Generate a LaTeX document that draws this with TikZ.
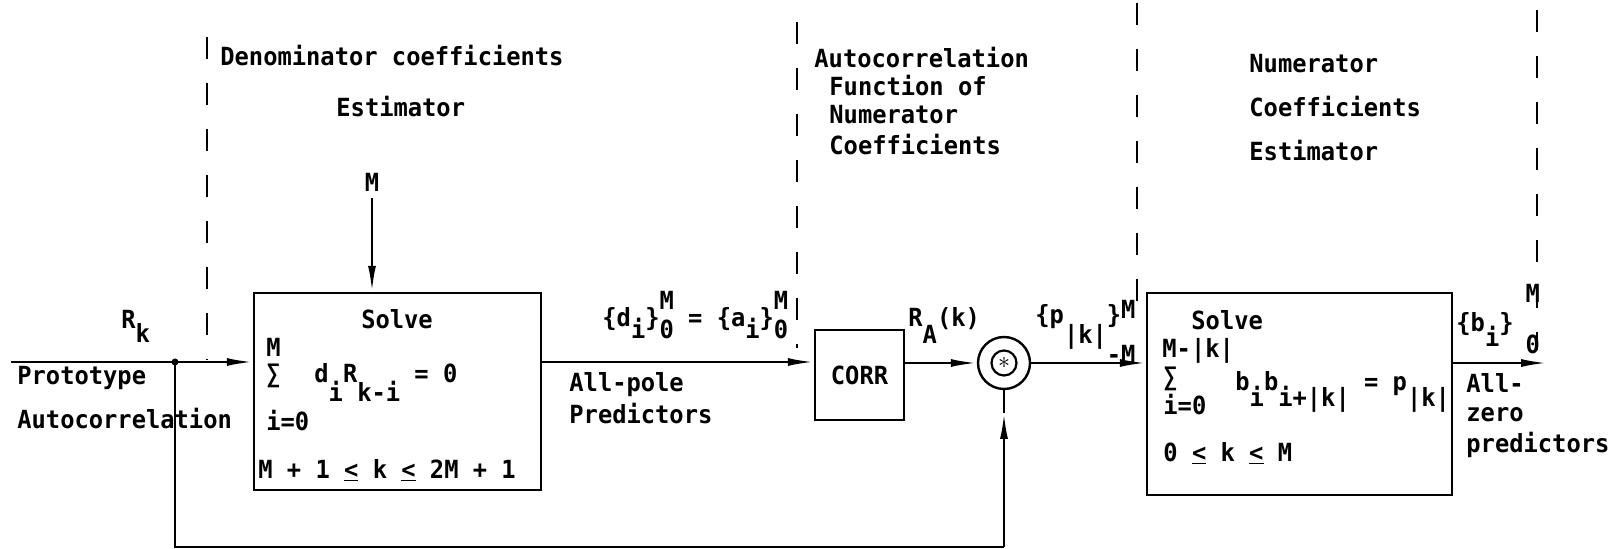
\documentclass[tikz,border=0pt]{standalone}
\usepackage{fontspec}
\setmainfont{DejaVu Sans Mono}[FakeStretch=0.95]
\usetikzlibrary{arrows.meta,fit,calc}
\newcommand\fs{\fontsize{12.5pt}{15pt}\selectfont\bfseries}
\newcommand\lo[2][0.55em]{\raisebox{-#1}{#2}}
\newcommand\hi[2][0.68em]{\raisebox{#1}{#2}}
\newcommand\leu{\underline{<}}
\begin{document}
\begin{tikzpicture}[x=0.5pt,y=-0.5pt,
  every node/.style={font=\fs, inner sep=0pt},
  lbl/.style={anchor=base west},
  wire/.style={line width=1.2pt},
  arr/.style={wire, -{Latex[length=13pt,width=4pt]}},
  dashline/.style={line width=1.4pt, dash pattern=on 11pt off 12pt},
  boxst/.style={draw, line width=1.2pt}]
\useasboundingbox (0,0) rectangle (1620,549);

% dashed separators
\coordinate (d1t) at (207,37);   \coordinate (d1b) at (207,360);
\coordinate (d2t) at (797,22);   \coordinate (d2b) at (797,348);
\coordinate (d3t) at (1137,3);   \coordinate (d3b) at (1137,305);
\coordinate (d4t) at (1537,10);  \coordinate (d4b) at (1537,350);
\draw[dashline] (d1t) -- (d1b);
\draw[dashline] (d2t) -- (d2b);
\draw[dashline] (d3t) -- (d3b);
\draw[dashline] (d4t) -- (d4b);

% section titles
\node[lbl] (t1) at (220,66) {Denominator coefficients};
\node[lbl] (t2) at (336,117) {Estimator};
\node[lbl] (ac1) at (814,68) {Autocorrelation};
\node[lbl] (ac2) at (829,96) {Function of};
\node[lbl] (ac3) at (829,124) {Numerator};
\node[lbl] (ac4) at (829,155) {Coefficients};
\node[lbl] (nc1) at (1249,73) {Numerator};
\node[lbl] (nc2) at (1249,117) {Coefficients};
\node[lbl] (nc3) at (1249,161) {Estimator};

% box 1
\node[boxst, fit={(254,293) (541,490)}] (box1) {};
\node[anchor=base] (s1) at (397,329) {Solve};
\node[lbl] (s1M) at (266,357) {M};
\node[lbl] (s1S) at (266,383) {∑};
\node[lbl] (s1f) at (314,383) {d\lo[0.75em]{i}R\lo[0.75em]{k-i} = 0};
\node[lbl] (s1i) at (266,430) {i=0};
\node[lbl] (s1c) at (258,478) {M + 1 \leu{} k \leu{} 2M + 1};

% M input
\node (Min) at (372,182) {M};
\coordinate (Mtail) at (372,198);
\draw[arr] (Mtail) -- (Mtail |- box1.north);

% input
\coordinate (in) at (11,362);
\coordinate (j) at (175,362);
\fill (j) circle (3.5);
\draw[arr] (in) -- (in -| box1.west);
\node[lbl] (Rk) at (121,329) {R\lo{k}};
\node[lbl] (proto) at (17,385) {Prototype};
\node[lbl] (autoc) at (17,429) {Autocorrelation};

% CORR
\node[boxst, fit={(815,330) (904,420)}] (corr) {};
\node (corrt) at (corr.center) {CORR};
\draw[arr] (in -| box1.east) -- (in -| corr.west);
\node[lbl] (da) at (602,327) {\{d\lo[0.45em]{i}\}\rlap{\hi{M}}\lo[0.48em]{0} = \{a\lo[0.45em]{i}\}\rlap{\hi{M}}\lo[0.48em]{0}};
\node[lbl] (ap1) at (569,392) {All-pole};
\node[lbl] (ap2) at (569,423) {Predictors};

% convolution
\node[circle, draw, line width=1.2pt, minimum size=26pt] (conv) at (1004,363) {};
\node[circle, draw, line width=1.1pt, minimum size=12.5pt] (convin) at (conv.center) {$\ast$};
\draw[arr] (corr.east |- conv.west) -- (conv.west);
\node[lbl] (RA) at (908,327) {R\lo[0.68em]{A}(k)};

% box 2
\node[boxst, fit={(1147,293) (1452,495)}] (box2) {};
\draw[arr] (conv.east) -- (conv.east -| box2.west);
\node[lbl] (pk) at (1035,324) {\{p\lo[0.8em]{|k|}\rlap{\}\hi[0.2em]{M}}\lo[1.6em]{-M}};
\node[lbl] (s2) at (1191,330) {Solve};
\node[lbl] (s2M) at (1162,358) {M-|k|};
\node[lbl] (s2S) at (1163,386) {∑};
\node[lbl] (s2f) at (1235,391) {b\lo[0.64em]{i}b\lo[0.64em]{i+|k|} = p\lo[0.64em]{|k|}};
\node[lbl] (s2i) at (1163,415) {i=0};
\node[lbl] (s2c) at (1163,461) {0 \leu{} k \leu{} M};

% output
\coordinate (out) at (1547,363);
\draw[arr] (out -| box2.east) -- (out);
\node[lbl] (bi) at (1456,332) {\{b\lo[0.6em]{i}\}\hspace{0.48em}\rlap{\hi[1.16em]{M}}\lo[0.88em]{0}};
\node[lbl] (az1) at (1466,393) {All-};
\node[lbl] (az2) at (1466,422) {zero};
\node[lbl] (az3) at (1466,452) {predictors};

% feedback
\coordinate (fb1) at (175,547);
\coordinate (fb2) at (1004,547);
\coordinate (fbm) at (1004,413);
\draw[wire] (j) -- (fb1) -- (fb2);
\draw[arr] (fb2) -- (fbm);
\draw[wire] (fbm) -- (conv.south);
\end{tikzpicture}
\end{document}
